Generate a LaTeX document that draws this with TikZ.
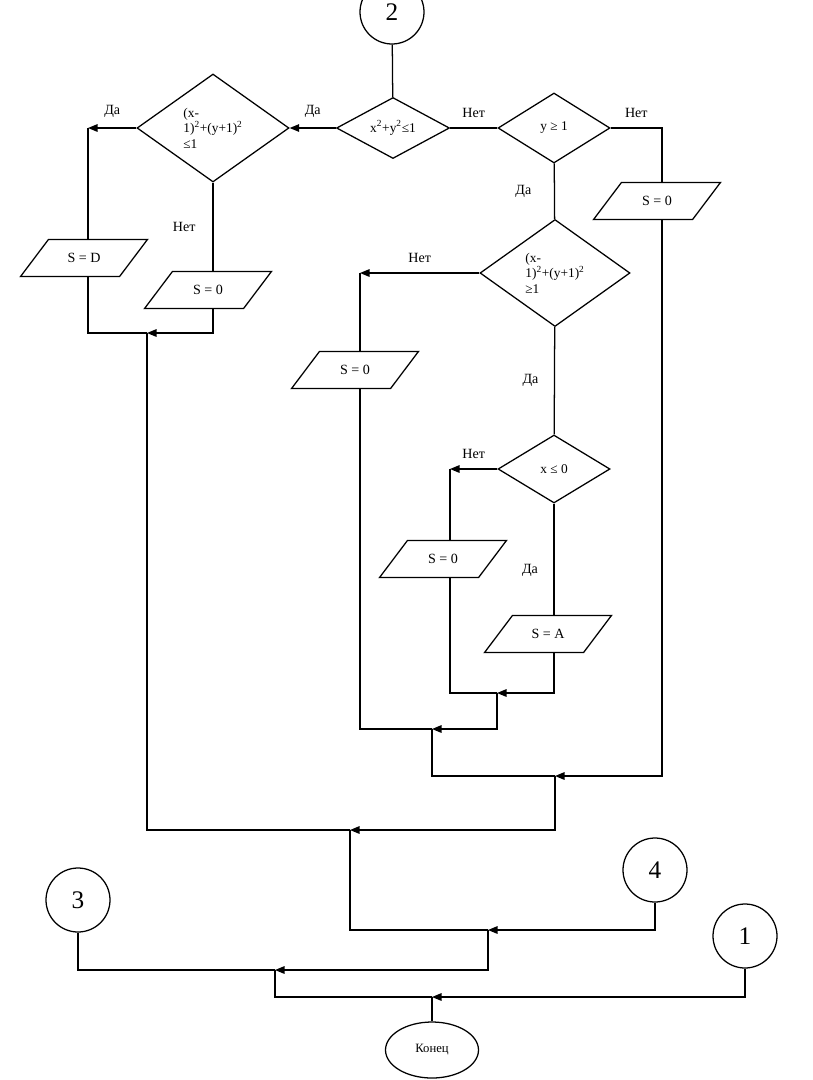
\documentclass[tikz,border=0pt]{standalone}
\usepackage{fontspec}
\setmainfont{Liberation Serif}
\usetikzlibrary{arrows.meta, positioning, shapes.geometric, calc}
\def\px{0.025cm}
\tikzset{%
   % decision block
   cond/.style={
      diamond,
      draw,
      aspect=1.4,
      inner sep=0pt,
      align=left,
      font=\fontsize{9.5}{11}\selectfont
   },
   % input/output block
   io/.style={
      trapezium,
      trapezium left angle=53,
      trapezium right angle=127,
      trapezium stretches body,
      draw,
      text height=7pt,
      text depth=0pt,
      inner xsep=0pt,
      inner ysep=9.7pt,
      minimum width=127*\px,
      font=\fontsize{10}{11}\selectfont
   },
   conn/.style={
      circle,
      draw,
      inner sep=0pt,
      minimum size=64*\px,
      font=\fontsize{18}{20}\selectfont
   },
   term/.style={
      ellipse,
      draw,
      inner sep=0pt,
      minimum width=93*\px,
      minimum height=56*\px,
      font=\fontsize{9}{11}\selectfont
   },
   lbl/.style={font=\fontsize{10}{11}\selectfont, inner sep=1pt},
   arr/.style={-{Triangle[length=2.4mm, width=1.9mm]}},
}

\begin{document}
\begin{tikzpicture}[x=\px, y=-\px, line width=0.9pt]
  \useasboundingbox (0,0) rectangle (812,1080);
  % connectors
  \node[conn] (c2) at (392,12)  {2};
  \node[conn] (c4) at (655,870) {4};
  \node[conn] (c3) at (78,900)  {3};
  \node[conn] (c1) at (745,936) {1};
  \node[term] (end) at (432,1050) {Конец};
  % conditions
  \node[cond, minimum width=113*\px, minimum height=61*\px] (d1) at (393,128)
     {x\textsuperscript{2}+y\textsuperscript{2}≤1};
  \node[cond, minimum width=152*\px, minimum height=108*\px] (d2) at (213,128)
     {(x-\\1)\textsuperscript{2}+(y+1)\textsuperscript{2}\\≤1};
  \node[cond, minimum width=112*\px, minimum height=70*\px] (d3) at (554,128) {y ≥ 1};
  \node[cond, minimum width=150*\px, minimum height=107*\px] (d4) at (555,273)
     {(x-\\1)\textsuperscript{2}+(y+1)\textsuperscript{2}\\≥1};
  \node[cond, minimum width=112*\px, minimum height=68*\px] (d5) at (554,469) {x ≤ 0};
  % assignments
  \node[io] (sd)  at (84,258)  {S = D};
  \node[io] (s0a) at (208,290) {S = 0};
  \node[io] (s0r) at (657,201) {S = 0};
  \node[io] (s0m) at (355,370) {S = 0};
  \node[io] (s0i) at (443,559) {S = 0};
  \node[io] (sa)  at (548,634) {S = A};
  % corners and joins
  \coordinate (k1) at (88,128);
  \coordinate (k2) at (360,273);
  \coordinate (k3) at (450,469);
  \coordinate (k4) at (662,128);
  \coordinate (m1) at (497,693);
  \coordinate (m2) at (432,729);
  \coordinate (m3) at (555,776);
  \coordinate (m4) at (147,333);
  \coordinate (m5) at (350,830);
  \coordinate (m6) at (488,930);
  \coordinate (m7) at (275,970);
  \coordinate (m8) at (432,997);

  \draw (c2) -- (d1);
  \draw[arr] (d1) -- node[lbl, above=6pt] {Да} (d2);
  \draw[arr] (d2.west) -- node[lbl, above=6pt] {Да} (k1);
  \draw (k1) -- (k1 |- sd.north);
  \draw (d2) -- node[lbl, left=11pt] {Нет} (d2 |- s0a.north);
  \draw (d1) -- node[lbl, above=6pt] {Нет} (d3);
  \draw (d3.east) -- node[lbl, above=6pt] {Нет} (k4) -- (k4 |- s0r.north);
  \draw (d3) -- node[lbl, left=15pt] {Да} (d4);
  \draw[arr] (d4.west) -- node[lbl, above=6pt] {Нет} (k2);
  \draw (k2) -- (k2 |- s0m.north);
  \draw (d4) -- node[lbl, left=10pt] {Да} (d5);
  \draw[arr] (d5.west) -- node[lbl, above=6pt] {Нет} (k3);
  \draw (k3) -- (k3 |- s0i.north);
  \draw (d5) -- node[lbl, left=10pt, pos=.6] {Да} (d5 |- sa.north);

  \draw[arr] (d5 |- sa.south) |- (m1);
  \draw (k3 |- s0i.south) |- (m1);
  \draw[arr] (m1) |- (m2);
  \draw (k2 |- s0m.south) |- (m2);
  \draw[arr] (k4 |- s0r.south) |- (m3);
  \draw (m2) |- (m3);
  \draw[arr] (d2 |- s0a.south) |- (m4);
  \draw (k1 |- sd.south) |- (m4);
  \draw[arr] (m3) |- (m5);
  \draw (m4) |- (m5);
  \draw[arr] (c4) |- (m6);
  \draw (m5) |- (m6);
  \draw[arr] (m6) |- (m7);
  \draw (c3) |- (m7);
  \draw[arr] (c1) |- (m8);
  \draw (m7) |- (m8);
  \draw (m8) -- (end);
\end{tikzpicture}
\end{document}
